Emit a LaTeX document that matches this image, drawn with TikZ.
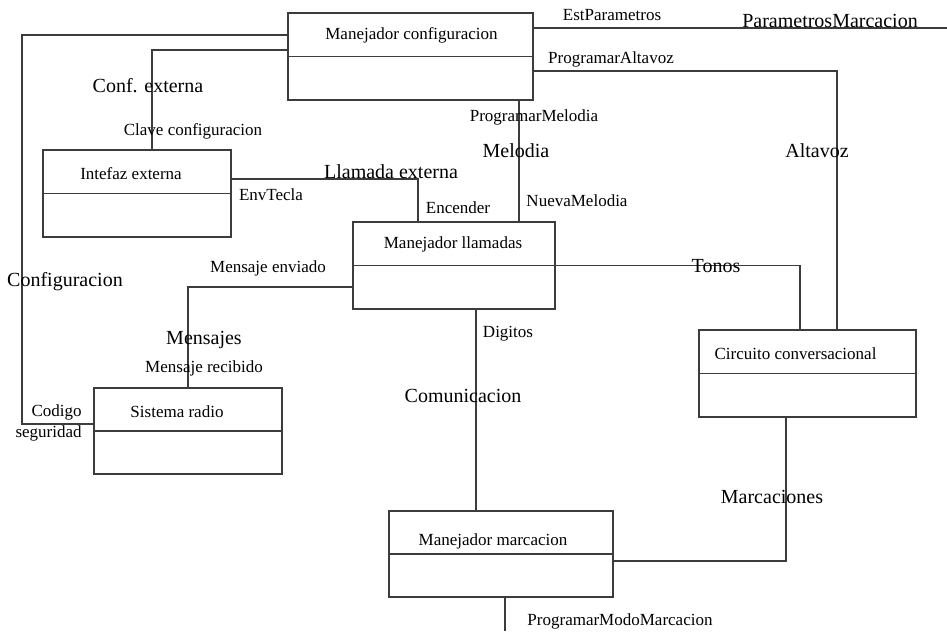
\documentclass[tikz,border=0pt]{standalone}
\usepackage{fontspec}
\setmainfont{Liberation Serif}
\usetikzlibrary{fit,calc}
\definecolor{trazo}{HTML}{3C3C3C}

\begin{document}
\begin{tikzpicture}[x=0.6pt,y=-0.6pt,
  clase/.style={draw=trazo,line width=0.65pt,fill=white,inner sep=0pt},
  enlace/.style={draw=trazo,line width=0.65pt},
  titulo/.style={font=\fontsize{10.2}{12}\selectfont,inner sep=0pt},
  rol/.style={font=\fontsize{10.2}{12}\selectfont,text height=7pt,text depth=2pt,inner sep=0pt},
  asoc/.style={font=\fontsize{12}{14}\selectfont,text height=8.4pt,text depth=2.4pt,inner sep=0pt}]
  \useasboundingbox[fill=white] (0,0) rectangle (947,631);
  \node[clase,fit={(288,13) (533,100)}]  (mconf) {};
  \node[clase,fit={(43,150) (231,237)}]  (iext)  {};
  \node[clase,fit={(353,222) (555,309)}] (mllam) {};
  \node[clase,fit={(94,388) (282,474)}]  (radio) {};
  \node[clase,fit={(699,330) (916,417)}] (circ)  {};
  \node[clase,fit={(389,511) (613,597)}] (mmarc) {};
  \foreach \c in {mconf,iext,mllam,radio,circ,mmarc} \draw[enlace] (\c.west) -- (\c.east);
  \foreach \c/\t/\dx/\dy in {mconf/Manejador configuracion/1/1, iext/Intefaz externa/-6/2,
      mllam/Manejador llamadas/-1/1, radio/Sistema radio/-11/2,
      circ/Circuito conversacional/-12/2, mmarc/Manejador marcacion/-8/9}
    \node[titulo] at ($(\c.north)!.25!(\c.south)+(\dx,\dy)$) {\t};
  \coordinate (finpar)  at (947,28);
  \coordinate (finmodo) at (505,631);
  \draw[enlace] (mconf.west |- 0,35) -| (22,424) -- (radio.west |- 0,424);
  \draw[enlace] (mconf.west |- 0,50) -| (iext.north -| 152,0);
  \draw[enlace] (iext.east |- 0,179) -| (mllam.north -| 418,0);
  \draw[enlace] (mconf.south -| 519,0) -- (mllam.north -| 519,0);
  \draw[enlace] (mconf.east |- 0,71) -| (circ.north -| 837,0);
  \draw[enlace] (mconf.east |- finpar) -- (finpar);
  \draw[enlace] (mllam.east) -| (circ.north -| 800,0);
  \draw[enlace] (mllam.west |- 0,287) -| (radio.north -| 188,0);
  \draw[enlace] (mllam.south -| 476,0) -- (mmarc.north -| 476,0);
  \draw[enlace] (circ.south -| 786,0) |- (mmarc.east |- 0,561);
  \draw[enlace] (mmarc.south -| finmodo) -- (finmodo);
  \node[rol] at (612,16)  {EstParametros};
  \node[rol] at (611,59)  {ProgramarAltavoz};
  \node[rol] at (534,117) {ProgramarMelodia};
  \node[rol] at (577,202) {NuevaMelodia};
  \node[rol] at (193,131) {Clave configuracion};
  \node[rol] at (271,196) {EnvTecla};
  \node[rol] at (458,209) {Encender};
  \node[rol] at (268,268) {Mensaje enviado};
  \node[rol] at (204,368) {Mensaje recibido};
  \node[rol] at (508,333) {Digitos};
  \node[rol] at (620,621) {ProgramarModoMarcacion};
  \node[titulo,align=right,anchor=east,font=\fontsize{10.2}{12.6}\selectfont] at (82,422.5) {Codigo\\seguridad};
  \node[asoc] at (830,22)  {ParametrosMarcacion};
  \node[asoc] at (148,87)  {Conf. externa};
  \node[asoc] at (516,152) {Melodia};
  \node[asoc] at (817,152) {Altavoz};
  \node[asoc] at (391,173) {Llamada externa};
  \node[asoc] at (65,281)  {Configuracion};
  \node[asoc] at (716,267) {Tonos};
  \node[asoc] at (204,339) {Mensajes};
  \node[asoc] at (463,397) {Comunicacion};
  \node[asoc] at (772,498) {Marcaciones};
\end{tikzpicture}
\end{document}
